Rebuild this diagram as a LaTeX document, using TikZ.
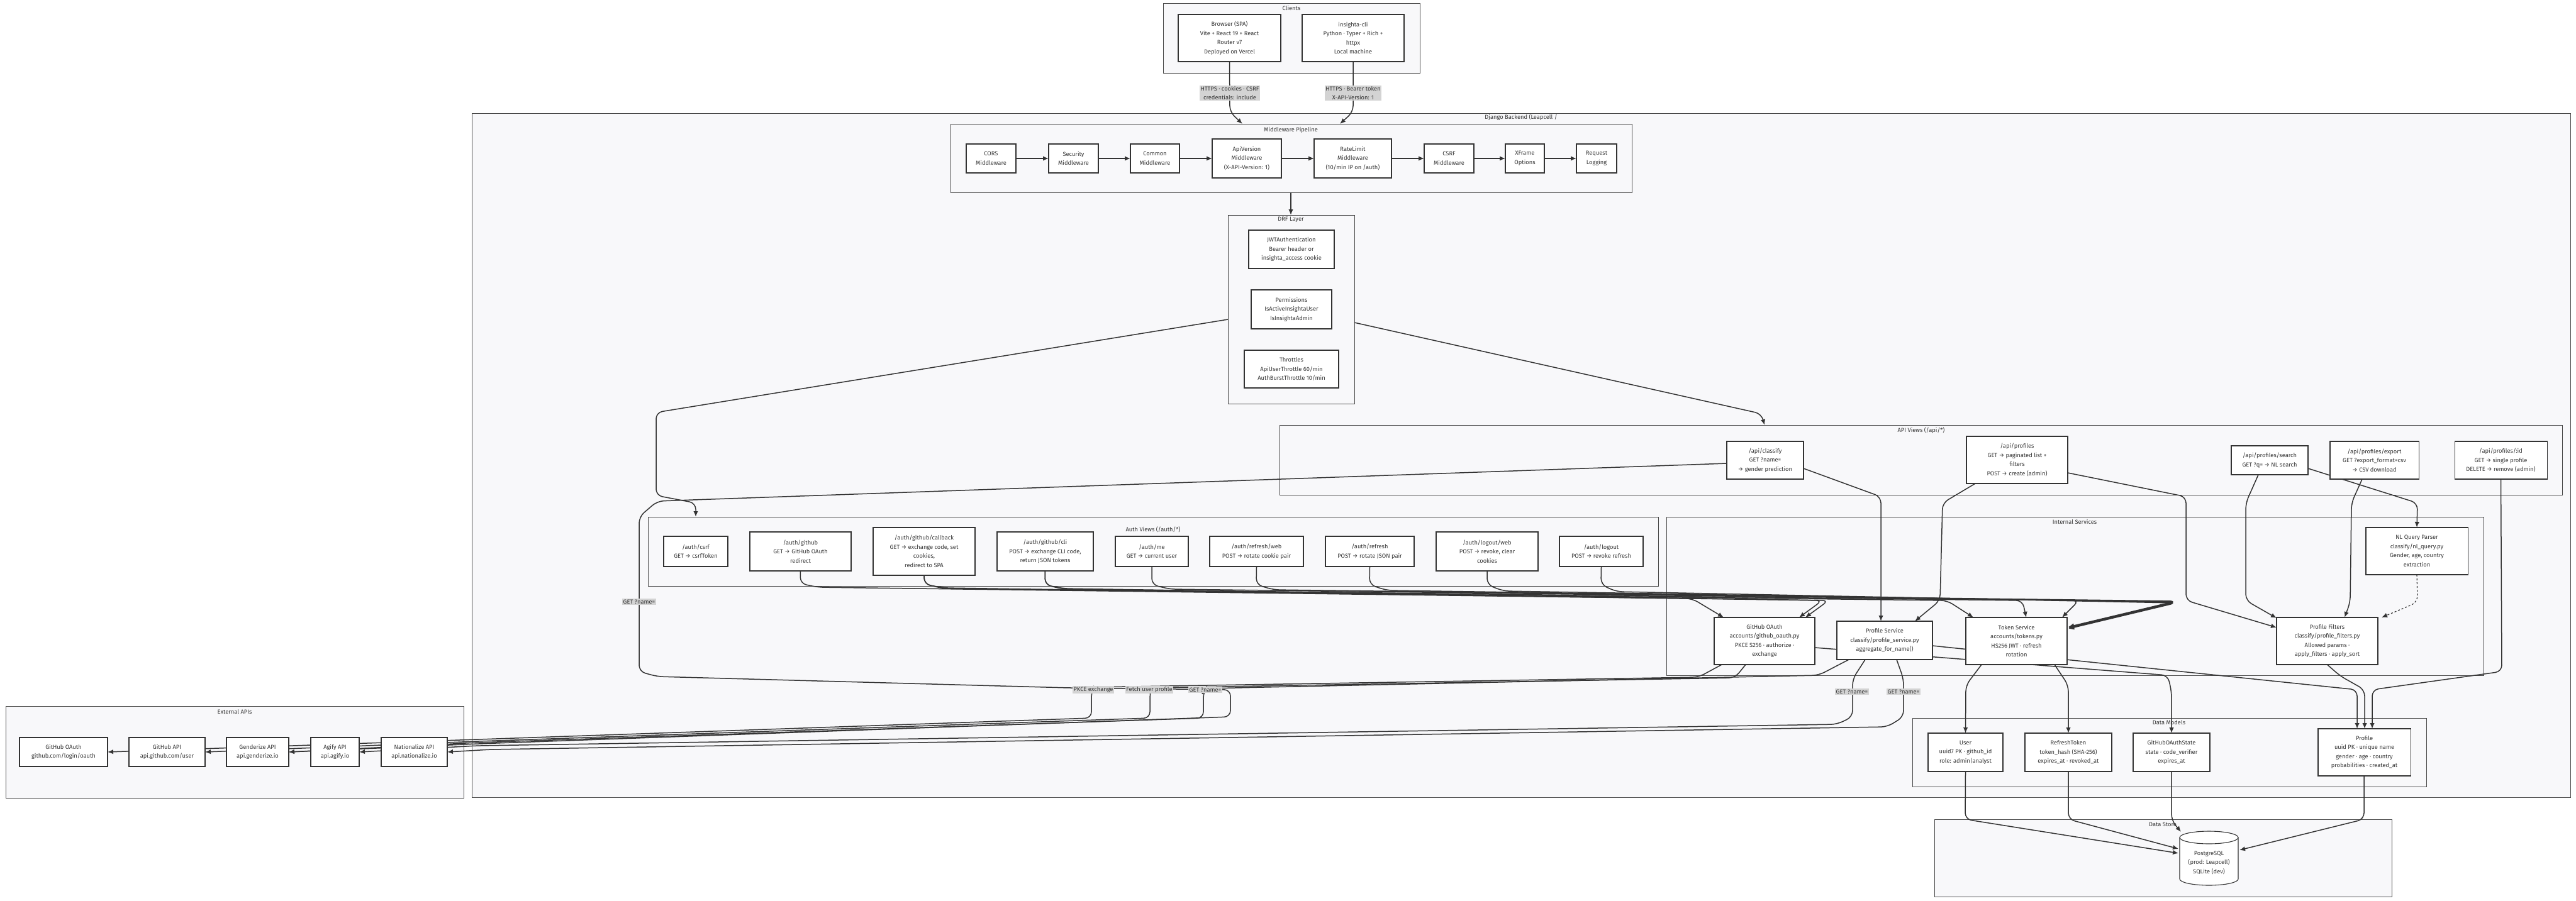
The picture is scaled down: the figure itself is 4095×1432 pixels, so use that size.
\documentclass[tikz,border=0pt]{standalone}
\usepackage{fontspec}
\setmainfont{Fira Sans}
\usetikzlibrary{arrows.meta}
\definecolor{ink}{HTML}{333333}
\definecolor{clfill}{HTML}{F8F8FA}
\definecolor{lblfill}{HTML}{D3D3D3}
\pgfdeclarelayer{bg}\pgfdeclarelayer{edges}\pgfsetlayers{bg,edges,main}
\tikzset{
 box/.style={draw=ink, fill=white, line width=1.1pt, align=center, inner sep=0pt, outer sep=0pt, font=\fontsize{9.3}{14.5}\selectfont, text=ink},
 clus/.style={draw=ink!90, fill=clfill, line width=1pt, inner sep=0pt, outer sep=0pt},
 ttl/.style={font=\fontsize{9.3}{14.5}\selectfont, text=ink, inner sep=0pt},
 edge/.style={draw=ink, line width=1.5pt, rounded corners=10pt, -{Latex[length=9pt,width=7.5pt]}},
 lbl/.style={fill=lblfill, font=\fontsize{9.3}{14.5}\selectfont, text=ink, align=center, inner sep=1.5pt},
}
\newcommand\bx[6]{\node[box, minimum width={(#4)-(#2)}, minimum height={(#5)-(#3)}] (#1) at ({((#2)+(#4))/2},{((#3)+(#5))/2}) {#6};}
\newcommand\clu[6]{\begin{pgfonlayer}{bg}\node[clus, minimum width={(#4)-(#2)}, minimum height={(#5)-(#3)}] (#1) at ({((#2)+(#4))/2},{((#3)+(#5))/2}) {};\end{pgfonlayer}}
\begin{document}
\begin{tikzpicture}[x=1pt,y=-1pt]
\begin{pgfonlayer}{bg}
\fill[white] (0,0) rectangle (4095,1432);
\end{pgfonlayer}
\useasboundingbox (0,0) rectangle (4095,1432);
% ---------- clusters ----------
\clu{cClients}{1849}{5}{2257}{116}{}
\clu{cDjango}{750}{180}{4086}{1268}{}
\clu{cMW}{1511}{197}{2594}{306}{}
\clu{cDRF}{1952}{342}{2153}{642}{}
\clu{cAPI}{2034}{676}{4073}{787}{}
\clu{cAuth}{1030}{822}{2636}{932}{}
\clu{cInt}{2649}{822}{3948}{1074}{}
\clu{cModels}{3040}{1142}{3857}{1251}{}
\clu{cStore}{3075}{1303}{3802}{1426}{}
\clu{cExt}{9}{1123}{737}{1269}{}
\node[ttl] (tClients) at (2053,13) {Clients};
\node[ttl] (tDjango) at (2418,187) {Django Backend (Leapcell /};
\node[ttl] (tMW) at (2052,207) {Middleware Pipeline};
\node[ttl] (tDRF) at (2052,349) {DRF Layer};
\node[ttl] (tAPI) at (3054,685) {API Views (/api/*)};
\node[ttl] (tAuth) at (1833,842) {Auth Views (/auth/*)};
\node[ttl] (tInt) at (3298,830) {Internal Services};
\node[ttl] (tModels) at (3448,1149) {Data Models};
\node[ttl] (tStore) at (3438,1311) {Data Store};
\node[ttl] (tExt) at (373,1132) {External APIs};
% ---------- clients ----------
\bx{browser}{1873}{23}{2036}{98}{Browser (SPA)\\Vite + React 19 + React\\Router v7\\Deployed on Vercel}
\bx{cli}{2070}{23}{2232}{98}{insighta-cli\\Python · Typer + Rich +\\httpx\\Local machine}
% ---------- middleware ----------
\bx{cors}{1536}{229}{1615}{275}{CORS\\Middleware}
\bx{sec}{1667}{229}{1746}{275}{Security\\Middleware}
\bx{com}{1797}{229}{1875}{275}{Common\\Middleware}
\bx{apiv}{1927}{221}{2037}{283}{ApiVersion\\Middleware\\(X-API-Version: 1)}
\bx{rate}{2089}{221}{2212}{283}{RateLimit\\Middleware\\(10/min IP on /auth)}
\bx{csrfm}{2264}{229}{2343}{275}{CSRF\\Middleware}
\bx{xf}{2393}{229}{2455}{275}{XFrame\\Options}
\bx{reqlog}{2506}{229}{2570}{275}{Request\\Logging}
% ---------- DRF ----------
\bx{jwt}{1985}{366}{2121}{427}{JWTAuthentication\\Bearer header or\\insighta\_access cookie}
\bx{perm}{1989}{461}{2117}{523}{Permissions\\IsActiveInsightaUser\\IsInsightaAdmin}
\bx{thr}{1978}{557}{2128}{617}{Throttles\\ApiUserThrottle 60/min\\AuthBurstThrottle 10/min}
% ---------- API views ----------
\bx{classify}{2745}{702}{2867}{762}{/api/classify\\GET ?name=\\→ gender prediction}
\bx{profiles}{3126}{694}{3287}{769}{/api/profiles\\GET → paginated list +\\filters\\POST → create (admin)}
\bx{search}{3547}{709}{3669}{755}{/api/profiles/search\\GET ?q= → NL search}
\bx{export}{3704}{702}{3845}{762}{/api/profiles/export\\GET ?export\_format=csv\\→ CSV download}
\bx{pid}{3902}{702}{4049}{762}{/api/profiles/:id\\GET → single profile\\DELETE → remove (admin)}
% ---------- Auth views ----------
\bx{acsrf}{1055}{853}{1157}{901}{/auth/csrf\\GET → csrfToken}
\bx{agh}{1192}{846}{1353}{908}{/auth/github\\GET → GitHub OAuth\\redirect}
\bx{acb}{1388}{839}{1550}{915}{/auth/github/callback\\GET → exchange code, set\\cookies,\\redirect to SPA}
\bx{acli}{1585}{846}{1738}{908}{/auth/github/cli\\POST → exchange CLI code,\\return JSON tokens}
\bx{ame}{1773}{853}{1889}{901}{/auth/me\\GET → current user}
\bx{arw}{1923}{853}{2072}{901}{/auth/refresh/web\\POST → rotate cookie pair}
\bx{ar}{2107}{853}{2248}{901}{/auth/refresh\\POST → rotate JSON pair}
\bx{alw}{2283}{846}{2445}{908}{/auth/logout/web\\POST → revoke, clear\\cookies}
\bx{alo}{2479}{853}{2612}{901}{/auth/logout\\POST → revoke refresh}
% ---------- Internal services ----------
\bx{gho}{2725}{982}{2885}{1057}{GitHub OAuth\\accounts/github\_oauth.py\\PKCE S256 · authorize ·\\exchange}
\bx{ps}{2920}{988}{3072}{1049}{Profile Service\\classify/profile\_service.py\\aggregate\_for\_name()}
\bx{tok}{3125}{982}{3286}{1057}{Token Service\\accounts/tokens.py\\HS256 JWT · refresh\\rotation}
\bx{pf}{3619}{982}{3780}{1057}{Profile Filters\\classify/profile\_filters.py\\Allowed params ·\\apply\_filters · apply\_sort}
\bx{nl}{3761}{839}{3923}{914}{NL Query Parser\\classify/nl\_query.py\\Gender, age, country\\extraction}
% ---------- Data models ----------
\bx{user}{3065}{1166}{3184}{1227}{User\\uuid7 PK · github\_id\\role: admin|analyst}
\bx{rt}{3219}{1166}{3357}{1227}{RefreshToken\\token\_hash (SHA-256)\\expires\_at · revoked\_at}
\bx{ghs}{3391}{1166}{3513}{1227}{GitHubOAuthState\\state · code\_verifier\\expires\_at}
\bx{prof}{3685}{1159}{3832}{1234}{Profile\\uuid PK · unique name\\gender · age · country\\probabilities · created\_at}
% ---------- Data store ----------
\filldraw[draw=ink, fill=white, line width=1.1pt] (3465,1332) -- (3465,1398) arc[start angle=180, end angle=0, x radius=46.5, y radius=10] -- (3558,1332) arc[start angle=0, end angle=-180, x radius=46.5, y radius=10] -- cycle;
\draw[ink, line width=1.1pt] (3465,1332) arc[start angle=180, end angle=0, x radius=46.5, y radius=10];
\node[box, draw=none, fill=none, minimum width=93, minimum height=86] (db) at (3511.5,1365) {};
\node[ttl, align=center] (dbtxt) at (3511.5,1372) {PostgreSQL\\(prod: Leapcell)\\SQLite (dev)};
% ---------- External APIs ----------
\bx{ghoa}{31}{1173}{171}{1219}{GitHub OAuth\\github.com/login/oauth}
\bx{ghapi}{205}{1173}{326}{1219}{GitHub API\\api.github.com/user}
\bx{gen}{360}{1173}{459}{1219}{Genderize API\\api.genderize.io}
\bx{agi}{494}{1173}{571}{1219}{Agify API\\api.agify.io}
\bx{nat}{606}{1173}{711}{1219}{Nationalize API\\api.nationalize.io}
% ---------- edges ----------
\begin{pgfonlayer}{edges}
\draw[edge] (browser.south) -- (1955,178) -- (1975,197);
\draw[edge] (cli.south) -- (2151,178) -- (2130,197);
\draw[edge] (cors) -- (sec);
\draw[edge] (sec) -- (com);
\draw[edge] (com) -- (apiv);
\draw[edge] (apiv) -- (rate);
\draw[edge] (rate) -- (csrfm);
\draw[edge] (csrfm) -- (xf);
\draw[edge] (xf) -- (reqlog);
\draw[edge] (cMW.south -| tMW) -- (cDRF.north -| tMW);
\draw[edge] (1952,508) -- (1043,656) -- (1043,788) -- (1106,800) -- (1106,822);
\draw[edge] (2153,513) -- (2800,658) -- (2805,676);
% API views -> services
\draw[edge] (2867,745) -- (2990,790) -- (2990,988);
\draw[edge] (2745,737) -- (1045,797) -- (1016,822) -- (1016,1068) -- (1045,1076) -- (1700,1094) -- (1956,1097) -- (1956,1140) -- (760,1183) -- (gen.east);
\draw[edge] (3140,769) -- (3088,800) -- (3084,955) -- (3044,988);
\draw[edge] (3287,752) -- (3475,790) -- (3475,955) -- (3619,998);
\draw[edge] (3590,755) -- (3570,800) -- (3570,955) -- (3619,983);
\draw[edge] (3669,745) -- (3843,800) -- (nl.north);
\draw[edge] (3755,762) -- (3738,800) -- (3736,958) -- (3727,982);
\draw[edge, dash pattern=on 3pt off 3pt, line width=1.2pt] (nl.south) -- (3843,958) -- (3786,982);
\draw[edge] (pid.south) -- (3977,1068) -- (3771,1097) -- (3771,1159);
\draw[edge] (pf.south) -- (3720,1075) -- (3759,1097) -- (3759,1159);
\draw[edge] (3072,1027) -- (3747,1097) -- (3747,1159);
\draw[edge] (2885,1030) -- (3446,1074) -- (3452,1100) -- (ghs.north);
\draw[edge] (3150,1057) -- (3125,1090) -- (user.north);
\draw[edge] (3266,1057) -- (3288,1090) -- (rt.north);
% auth views -> services
\draw[edge] (agh.south) -- (1272,928) -- (1300,934) -- (2690,952) -- (2740,982);
\draw[edge] (acb.south) -- (1469,929) -- (1500,935) -- (2897,955) -- (2860,982);
\draw[edge] (acli.south) -- (1661,930) -- (1690,936) -- (2907,955) -- (2870,982);
\draw[edge] (acb.south) -- (1469,929) -- (1500,936) -- (3095,955) -- (3137,982);
\draw[edge] (acli.south) -- (1661,930) -- (1690,937) -- (3215,955) -- (3221,982);
\draw[edge] (ame.south) -- (1831,930) -- (1860,937) -- (3305,955) -- (3278,982);
\draw[edge] (arw.south) -- (1997,930) -- (2025,938) -- (3459,956) -- (3288,997);
\draw[edge] (ar.south) -- (2177,930) -- (2205,939) -- (3459,957) -- (3288,998);
\draw[edge] (alw.south) -- (2364,930) -- (2390,940) -- (3459,958) -- (3288,999);
\draw[edge] (alo.south) -- (2545,930) -- (2570,941) -- (3459,959) -- (3288,1000);
% services -> external
\draw[edge] (2737,1057) -- (2700,1077) -- (1738,1093) -- (1735,1100) -- (1735,1142) -- (760,1176) -- (ghoa.east);
\draw[edge] (2775,1057) -- (2758,1078) -- (1831,1094) -- (1828,1100) -- (1828,1142) -- (760,1179) -- (ghapi.east);
\draw[edge] (2939,1049) -- (2891,1074) -- (1916,1095) -- (1913,1100) -- (1913,1142) -- (760,1181) -- (gen.east);
\draw[edge] (2965,1049) -- (2945,1080) -- (2945,1140) -- (2920,1152) -- (760,1186) -- (agi.east);
\draw[edge] (3015,1049) -- (3026,1080) -- (3026,1140) -- (3000,1156) -- (780,1192) -- (nat.east);
% models -> store
\draw[edge] (user.south) -- (3124,1303) -- (3463,1357);
\draw[edge] (rt.south) -- (3288,1303) -- (3463,1350);
\draw[edge] (ghs.south) -- (3452,1305) -- (3467,1323);
\draw[edge] (3758,1234) -- (3758,1303) -- (3560,1352);
\end{pgfonlayer}
% ---------- edge labels ----------
\node[lbl] (l1) at (1955,148) {HTTPS · cookies · CSRF\\credentials: include};
\node[lbl] (l2) at (2151,148) {HTTPS · Bearer token\\X-API-Version: 1};
\node[lbl] (l3) at (1016,957) {GET ?name=};
\node[lbl] (l4) at (1738,1097) {PKCE exchange};
\node[lbl] (l5) at (1827,1097) {Fetch user profile};
\node[lbl] (l6) at (1916,1097) {GET ?name=};
\node[lbl] (l7) at (2944,1100) {GET ?name=};
\node[lbl] (l8) at (3026,1100) {GET ?name=};
\end{tikzpicture}
\end{document}
